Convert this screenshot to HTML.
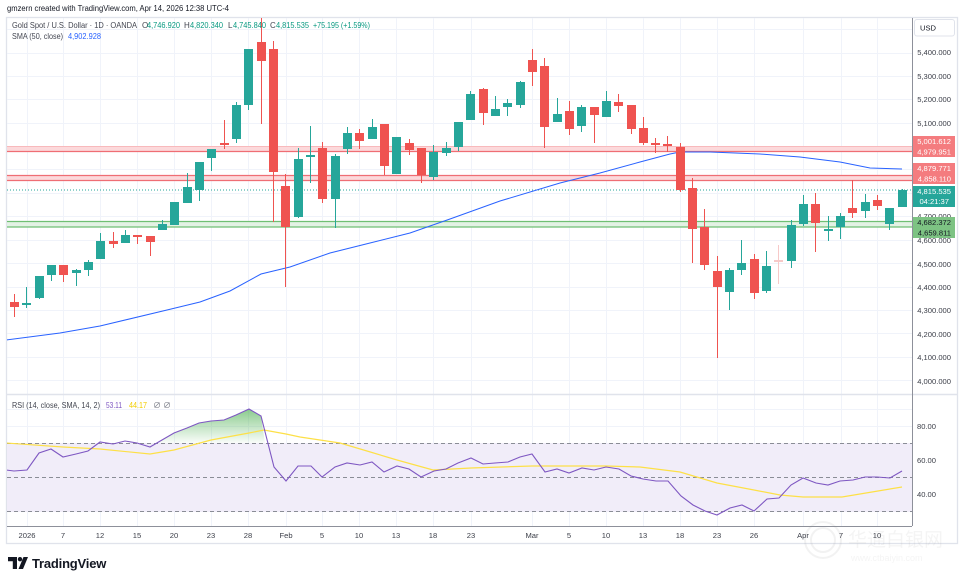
<!DOCTYPE html>
<html><head><meta charset="utf-8"><style>
html,body{margin:0;padding:0;background:#fff;width:964px;height:582px;overflow:hidden}
svg{display:block;font-family:"Liberation Sans","Noto Sans CJK SC",sans-serif}
</style></head><body>
<svg width="964" height="582" viewBox="0 0 964 582" xmlns="http://www.w3.org/2000/svg">
<defs>
<clipPath id="mp"><rect x="7" y="18" width="905" height="376"/></clipPath>
<clipPath id="rp"><rect x="7" y="395" width="905" height="131"/></clipPath>
<linearGradient id="gg" x1="0" y1="0" x2="0" y2="1"><stop offset="0" stop-color="#4caf50" stop-opacity="0.65"/><stop offset="1" stop-color="#4caf50" stop-opacity="0.03"/></linearGradient>
</defs>
<rect width="964" height="582" fill="#fff"/>
<text x="7" y="11" font-size="8" fill="#131722" textLength="222" lengthAdjust="spacingAndGlyphs">gmzern created with TradingView.com, Apr 14, 2026 12:38 UTC-4</text>
<!-- frame -->
<rect x="6.5" y="17.5" width="951" height="526" fill="none" stroke="#e0e3eb" stroke-width="1.3"/>
<!-- grid -->
<g stroke="#f0f3fa" stroke-width="1">
<path d="M27.5 18V526M63.5 18V526M100.5 18V526M137.5 18V526M174.5 18V526M211.5 18V526M248.5 18V526M286.5 18V526M322.5 18V526M359.5 18V526M396.5 18V526M433.5 18V526M471.5 18V526M532.5 18V526M569.5 18V526M606.5 18V526M643.5 18V526M680.5 18V526M717.5 18V526M754.5 18V526M803.5 18V526M841.5 18V526M877.5 18V526"/>
<path d="M7 29.5H912M7 53.5H912M7 76.5H912M7 99.5H912M7 123.5H912M7 146.5H912M7 169.5H912M7 193.5H912M7 216.5H912M7 240.5H912M7 263.5H912M7 287.5H912M7 310.5H912M7 333.5H912M7 357.5H912M7 380.5H912"/>
<path d="M7 409.5H912M7 426.5H912M7 460.5H912M7 494.5H912"/>
</g>
<g clip-path="url(#mp)">
<rect x="7" y="146" width="905" height="5.5" fill="#fcd9db"/>
<path d="M7 146.5H912" stroke="#f8b9bc" stroke-width="1"/>
<path d="M7 151.5H912" stroke="#ef6e74" stroke-width="1.3"/>
<rect x="7" y="175" width="905" height="5.5" fill="#fcd9db"/>
<path d="M7 175.5H912M7 180.5H912" stroke="#ef6e74" stroke-width="1.3"/>
<rect x="7" y="221" width="905" height="6" fill="#e3f2e4"/>
<path d="M7 221.5H912M7 227H912" stroke="#6fbf73" stroke-width="1.3"/>
<path d="M7 190H912" stroke="#26a69a" stroke-width="1" stroke-dasharray="1 2"/>
<polyline fill="none" stroke="#2962ff" stroke-width="1" points="6,340 60,333 100,326 167,310 200,302 230,291 261,274 290,267 330,253 370,243 410,233 450,219 500,201 560,183 600,173 640,162 670,154 680,152 710,152 760,154 800,157 840,162 870,168 902,169"/>
<g fill="#26a69a">
<rect x="26" y="287" width="1" height="21"/><rect x="22" y="303" width="9" height="2"/>
<rect x="39" y="276" width="1" height="23"/><rect x="35" y="276" width="9" height="22"/>
<rect x="51" y="265" width="1" height="16"/><rect x="47" y="265" width="9" height="10"/>
<rect x="76" y="269" width="1" height="17"/><rect x="72" y="270" width="9" height="3"/>
<rect x="88" y="260" width="1" height="16"/><rect x="84" y="262" width="9" height="8"/>
<rect x="100" y="233" width="1" height="26"/><rect x="96" y="241" width="9" height="18"/>
<rect x="125" y="230" width="1" height="13"/><rect x="121" y="235" width="9" height="8"/>
<rect x="162" y="220" width="1" height="10"/><rect x="158" y="224" width="9" height="6"/>
<rect x="174" y="202" width="1" height="23"/><rect x="170" y="202" width="9" height="23"/>
<rect x="187" y="173" width="1" height="30"/><rect x="183" y="187" width="9" height="16"/>
<rect x="199" y="162" width="1" height="39"/><rect x="195" y="162" width="9" height="28"/>
<rect x="211" y="149" width="1" height="22"/><rect x="207" y="149" width="9" height="9"/>
<rect x="236" y="102" width="1" height="41"/><rect x="232" y="105" width="9" height="34"/>
<rect x="248" y="49" width="1" height="61"/><rect x="244" y="49" width="9" height="56"/>
<rect x="298" y="148" width="1" height="70"/><rect x="294" y="159" width="9" height="58"/>
<rect x="310" y="126" width="1" height="57"/><rect x="306" y="155" width="9" height="2"/>
<rect x="335" y="154" width="1" height="74"/><rect x="331" y="156" width="9" height="43"/>
<rect x="347" y="127" width="1" height="27"/><rect x="343" y="133" width="9" height="16"/>
<rect x="372" y="119" width="1" height="20"/><rect x="368" y="127" width="9" height="12"/>
<rect x="396" y="137" width="1" height="37"/><rect x="392" y="137" width="9" height="37"/>
<rect x="433" y="145" width="1" height="35"/><rect x="429" y="152" width="9" height="25"/>
<rect x="446" y="142" width="1" height="14"/><rect x="442" y="148" width="9" height="5"/>
<rect x="458" y="122" width="1" height="29"/><rect x="454" y="122" width="9" height="25"/>
<rect x="470" y="91" width="1" height="29"/><rect x="466" y="94" width="9" height="26"/>
<rect x="495" y="96" width="1" height="20"/><rect x="491" y="109" width="9" height="7"/>
<rect x="507" y="99" width="1" height="17"/><rect x="503" y="103" width="9" height="4"/>
<rect x="520" y="81" width="1" height="27"/><rect x="516" y="82" width="9" height="23"/>
<rect x="557" y="98" width="1" height="24"/><rect x="553" y="114" width="9" height="8"/>
<rect x="581" y="105" width="1" height="27"/><rect x="577" y="107" width="9" height="19"/>
<rect x="606" y="91" width="1" height="26"/><rect x="602" y="101" width="9" height="16"/>
<rect x="729" y="268" width="1" height="42"/><rect x="725" y="270" width="9" height="22"/>
<rect x="741" y="240" width="1" height="35"/><rect x="737" y="263" width="9" height="7"/>
<rect x="766" y="251" width="1" height="42"/><rect x="762" y="266" width="9" height="25"/>
<rect x="791" y="220" width="1" height="48"/><rect x="787" y="225" width="9" height="36"/>
<rect x="803" y="195" width="1" height="31"/><rect x="799" y="204" width="9" height="20"/>
<rect x="828" y="216" width="1" height="25"/><rect x="824" y="229" width="9" height="2"/>
<rect x="840" y="213" width="1" height="26"/><rect x="836" y="216" width="9" height="11"/>
<rect x="865" y="194" width="1" height="24"/><rect x="861" y="202" width="9" height="9"/>
<rect x="889" y="208" width="1" height="22"/><rect x="885" y="208" width="9" height="16"/>
<rect x="902" y="189" width="1" height="18"/><rect x="898" y="190" width="9" height="17"/>
</g>
<g fill="#ef5350">
<rect x="14" y="294" width="1" height="23"/><rect x="10" y="302" width="9" height="5"/>
<rect x="63" y="265" width="1" height="17"/><rect x="59" y="265" width="9" height="10"/>
<rect x="113" y="232" width="1" height="16"/><rect x="109" y="241" width="9" height="3"/>
<rect x="137" y="235" width="1" height="9"/><rect x="133" y="235" width="9" height="2"/>
<rect x="150" y="236" width="1" height="20"/><rect x="146" y="236" width="9" height="6"/>
<rect x="224" y="120" width="1" height="29"/><rect x="220" y="143" width="9" height="2"/>
<rect x="261" y="17" width="1" height="107"/><rect x="257" y="42" width="9" height="19"/>
<rect x="273" y="41" width="1" height="181"/><rect x="269" y="49" width="9" height="123"/>
<rect x="285" y="174" width="1" height="113"/><rect x="281" y="186" width="9" height="41"/>
<rect x="322" y="142" width="1" height="61"/><rect x="318" y="148" width="9" height="51"/>
<rect x="359" y="129" width="1" height="20"/><rect x="355" y="133" width="9" height="8"/>
<rect x="384" y="124" width="1" height="51"/><rect x="380" y="124" width="9" height="42"/>
<rect x="409" y="139" width="1" height="16"/><rect x="405" y="143" width="9" height="7"/>
<rect x="421" y="148" width="1" height="35"/><rect x="417" y="148" width="9" height="27"/>
<rect x="483" y="88" width="1" height="37"/><rect x="479" y="89" width="9" height="24"/>
<rect x="532" y="49" width="1" height="37"/><rect x="528" y="60" width="9" height="12"/>
<rect x="544" y="58" width="1" height="90"/><rect x="540" y="66" width="9" height="61"/>
<rect x="569" y="101" width="1" height="34"/><rect x="565" y="111" width="9" height="18"/>
<rect x="594" y="107" width="1" height="36"/><rect x="590" y="107" width="9" height="8"/>
<rect x="618" y="94" width="1" height="18"/><rect x="614" y="102" width="9" height="4"/>
<rect x="631" y="105" width="1" height="29"/><rect x="627" y="105" width="9" height="24"/>
<rect x="643" y="117" width="1" height="28"/><rect x="639" y="128" width="9" height="15"/>
<rect x="655" y="138" width="1" height="15"/><rect x="651" y="143" width="9" height="2"/>
<rect x="667" y="136" width="1" height="16"/><rect x="663" y="144" width="9" height="2"/>
<rect x="680" y="143" width="1" height="49"/><rect x="676" y="147" width="9" height="43"/>
<rect x="692" y="178" width="1" height="85"/><rect x="688" y="188" width="9" height="41"/>
<rect x="704" y="209" width="1" height="61"/><rect x="700" y="227" width="9" height="38"/>
<rect x="717" y="256" width="1" height="102"/><rect x="713" y="271" width="9" height="16"/>
<rect x="754" y="254" width="1" height="45"/><rect x="750" y="259" width="9" height="34"/>
<rect x="815" y="193" width="1" height="59"/><rect x="811" y="204" width="9" height="19"/>
<rect x="852" y="180" width="1" height="38"/><rect x="848" y="208" width="9" height="5"/>
<rect x="877" y="195" width="1" height="15"/><rect x="873" y="200" width="9" height="6"/>
</g>
<g fill="#f7c9c8"><rect x="778" y="245" width="1" height="39"/><rect x="774" y="260" width="9" height="2"/></g>
</g>
<!-- legend -->
<g font-size="8" lengthAdjust="spacingAndGlyphs">
<text x="12" y="28" fill="#434651" textLength="125" lengthAdjust="spacingAndGlyphs">Gold Spot / U.S. Dollar · 1D · OANDA</text>
<text x="142" y="28" fill="#434651">O</text><text x="147" y="28" fill="#089981" textLength="33" lengthAdjust="spacingAndGlyphs">4,746.920</text>
<text x="184" y="28" fill="#434651">H</text><text x="190" y="28" fill="#089981" textLength="33" lengthAdjust="spacingAndGlyphs">4,820.340</text>
<text x="228" y="28" fill="#434651">L</text><text x="233" y="28" fill="#089981" textLength="33" lengthAdjust="spacingAndGlyphs">4,745.840</text>
<text x="270" y="28" fill="#434651">C</text><text x="276" y="28" fill="#089981" textLength="33" lengthAdjust="spacingAndGlyphs">4,815.535</text>
<text x="313" y="28" fill="#089981" textLength="57" lengthAdjust="spacingAndGlyphs">+75.195 (+1.59%)</text>
<text x="12" y="39" fill="#434651" textLength="51" lengthAdjust="spacingAndGlyphs">SMA (50, close)</text>
<text x="68" y="39" fill="#2962ff" textLength="33" lengthAdjust="spacingAndGlyphs">4,902.928</text>
</g>
<path d="M7 394.5H958" stroke="#e0e3eb" stroke-width="1.5"/>
<!-- RSI pane -->
<g clip-path="url(#rp)">
<rect x="7" y="443" width="905" height="69" fill="#f1edf9"/>
<path d="M7 443.5H912M7 477.5H912M7 511.5H912" stroke="#8a8d96" stroke-width="1" stroke-dasharray="4 3"/>
<polygon fill="url(#gg)" points="157,443 162,440 174,433 187,428 199,423 211,421 224,420 236,415 249,409 261,416 265,443"/>
<polyline fill="none" stroke="#fde047" stroke-width="1.2" points="6,443 63,447 100,449 150,454 174,450 211,440 249,433 264,430 286,434 300,437 340,443 367,451 397,460 433,470 471,468 532,466 606,466 640,467 680,472 717,483 754,490 780,495 803,497 842,497 878,491 902,487"/>
<polyline fill="none" stroke="#7e57c2" stroke-width="1.1" points="6,470 14,471 27,470 39,453 51,449 63,457 76,454 88,451 100,442 113,444 125,441 137,443 150,447 162,440 174,433 187,428 199,423 211,421 224,420 236,415 249,409 261,416 274,467 286,481 298,466 311,466 322,477 335,467 347,463 360,465 372,462 384,472 397,466 409,469 421,477 434,471 446,469 458,463 471,458 483,464 495,463 508,462 520,457 532,454 545,472 557,469 569,473 582,468 594,470 606,467 619,469 631,476 643,479 656,481 668,481 681,496 693,505 705,511 717,515 730,508 742,505 754,511 767,499 779,498 791,485 803,478 816,483 828,485 840,481 853,480 865,477 877,477 890,478 902,471"/>
</g>
<g font-size="8">
<text x="12" y="408" fill="#434651" textLength="88" lengthAdjust="spacingAndGlyphs">RSI (14, close, SMA, 14, 2)</text>
<text x="106" y="408" fill="#7e57c2" textLength="16" lengthAdjust="spacingAndGlyphs">53.11</text>
<text x="129" y="408" fill="#f2cd00" textLength="18" lengthAdjust="spacingAndGlyphs">44.17</text>
<text x="153" y="408" fill="#787b86">∅</text><text x="163" y="408" fill="#787b86">∅</text>
</g>
<path d="M912.5 18V526" stroke="#8d909a" stroke-width="1"/>
<path d="M7 526.5H912" stroke="#8d909a" stroke-width="1"/>
<g font-size="7.6" fill="#3b3e48" text-anchor="end">
<text x="951" y="55">5,400.000</text>
<text x="951" y="79">5,300.000</text>
<text x="951" y="102">5,200.000</text>
<text x="951" y="126">5,100.000</text>
<text x="951" y="219">4,700.000</text>
<text x="951" y="243">4,600.000</text>
<text x="951" y="267">4,500.000</text>
<text x="951" y="290">4,400.000</text>
<text x="951" y="313">4,300.000</text>
<text x="951" y="337">4,200.000</text>
<text x="951" y="360">4,100.000</text>
<text x="951" y="384">4,000.000</text>
<text x="936" y="429">80.00</text>
<text x="936" y="463">60.00</text>
<text x="936" y="497">40.00</text>
</g>
<rect x="914.5" y="19.5" width="40" height="16.5" rx="2.5" fill="#fff" stroke="#e0e3eb"/>
<text x="920" y="30.5" font-size="7.6" fill="#131722">USD</text>
<g font-size="7.6" text-anchor="end">
<rect x="913" y="136" width="42" height="10.5" fill="#f47c7f"/>
<text x="951" y="144" fill="#fff">5,001.612</text>
<rect x="913" y="146.5" width="42" height="10.5" fill="#f47c7f"/>
<text x="951" y="154.5" fill="#fff">4,979.951</text>
<rect x="913" y="163" width="42" height="10.5" fill="#f47c7f"/>
<text x="951" y="171" fill="#fff">4,879.771</text>
<rect x="913" y="173.5" width="42" height="10.5" fill="#f47c7f"/>
<text x="951" y="181.5" fill="#fff">4,858.110</text>
<rect x="913" y="186" width="42" height="21" fill="#26a69a"/>
<text x="951" y="194" fill="#fff">4,815.535</text>
<text x="949" y="204" fill="#fff">04:21:37</text>
<rect x="913" y="217" width="42" height="10.5" fill="#7dc383"/>
<text x="951" y="225" fill="#131722">4,682.372</text>
<rect x="913" y="227.5" width="42" height="10.5" fill="#7dc383"/>
<text x="951" y="235.5" fill="#131722">4,659.811</text>
</g>
<g font-size="7.6" fill="#3b3e48" text-anchor="middle">
<text x="27" y="538">2026</text><text x="63" y="538">7</text><text x="100" y="538">12</text><text x="137" y="538">15</text><text x="174" y="538">20</text><text x="211" y="538">23</text><text x="248" y="538">28</text><text x="286" y="538">Feb</text><text x="322" y="538">5</text><text x="359" y="538">10</text><text x="396" y="538">13</text><text x="433" y="538">18</text><text x="471" y="538">23</text><text x="532" y="538">Mar</text><text x="569" y="538">5</text><text x="606" y="538">10</text><text x="643" y="538">13</text><text x="680" y="538">18</text><text x="717" y="538">23</text><text x="754" y="538">26</text><text x="803" y="538">Apr</text><text x="841" y="538">7</text><text x="877" y="538">10</text>
</g>
<g opacity="0.1">
<circle cx="823" cy="540" r="18" fill="none" stroke="#888" stroke-width="2"/>
<circle cx="823" cy="540" r="12" fill="none" stroke="#888" stroke-width="2"/>
<text x="848" y="546" font-size="19" fill="#999" font-family="'Noto Sans CJK SC',sans-serif">华通白银网</text>
<text x="851" y="561" font-size="9" fill="#999">www.ctbaiyin.com</text>
</g>
<g fill="#131722">
<path d="M8 557h9v12h-4.2v-7.8H8z"/>
<circle cx="20" cy="559.2" r="2.2"/>
<path d="M23.5 557h4.5l-5 12h-4.5z"/>
<text x="32" y="568" font-size="13" font-weight="bold" letter-spacing="-0.2">TradingView</text>
</g>
</svg>
</body></html>
